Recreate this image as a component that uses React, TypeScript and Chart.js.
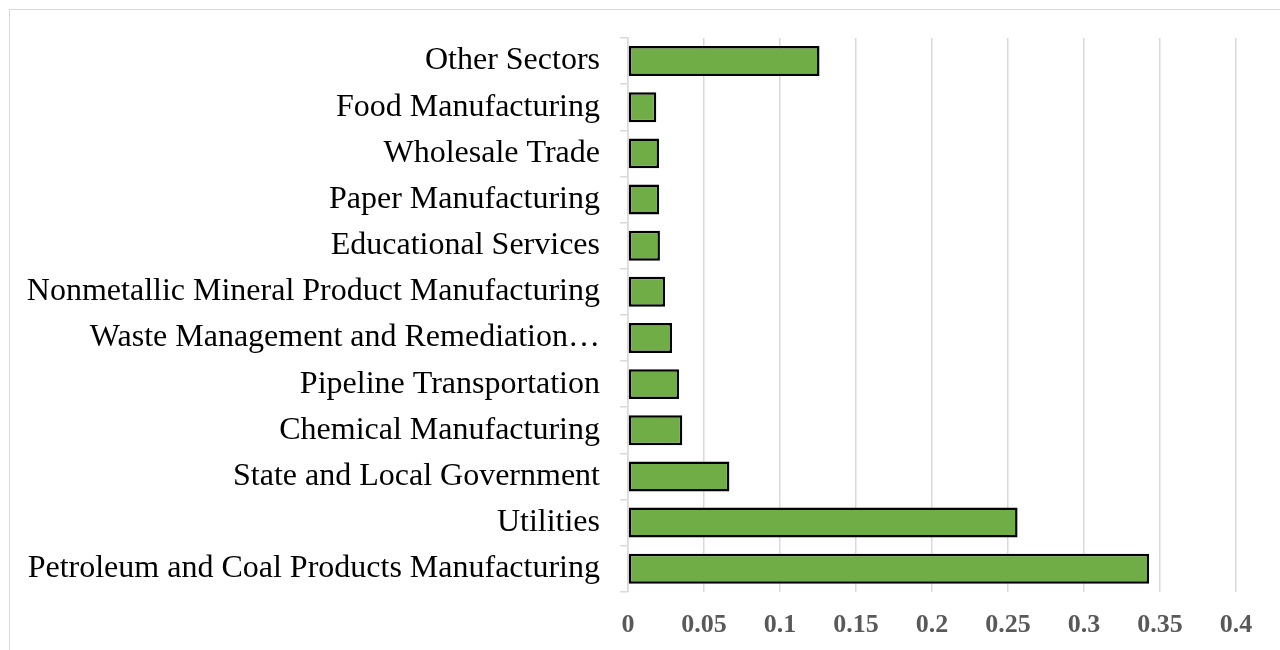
import React, { useEffect, useRef } from "react";
import { Chart, registerables } from "chart.js";
Chart.register(...registerables);

const categories = [
  "Other Sectors",
  "Food Manufacturing",
  "Wholesale Trade",
  "Paper Manufacturing",
  "Educational Services",
  "Nonmetallic Mineral Product Manufacturing",
  "Waste Management and Remediation…",
  "Pipeline Transportation",
  "Chemical Manufacturing",
  "State and Local Government",
  "Utilities",
  "Petroleum and Coal Products Manufacturing",
];
const values = [0.126, 0.0186, 0.0204, 0.0205, 0.021, 0.0244, 0.029, 0.0336, 0.0357, 0.0667, 0.2563, 0.3428];
const xTicks = [0, 0.05, 0.1, 0.15, 0.2, 0.25, 0.3, 0.35, 0.4];

const serif = "'Liberation Serif', 'Times New Roman', serif";

export default function App() {
  const ref = useRef<HTMLCanvasElement>(null);
  useEffect(() => {
    document.documentElement.style.overflow = "hidden";
    document.body.style.overflow = "hidden";
    const chart = new Chart(ref.current!, {
      type: "bar",
      data: {
        labels: categories,
        datasets: [
          {
            data: values,
            backgroundColor: "#70AD47",
            borderColor: "#000000",
            borderWidth: 2.5,
            borderSkipped: false,
            barPercentage: 0.65,
            categoryPercentage: 1,
          },
        ],
      },
      options: {
        indexAxis: "y",
        responsive: false,
        animation: false,
        layout: { padding: { left: 10, top: 27, right: 64, bottom: 10 } },
        plugins: { legend: { display: false }, tooltip: { enabled: false } },
        scales: {
          x: {
            min: 0,
            max: 0.4,
            afterBuildTicks: (s: any) => {
              s.ticks = xTicks.map((v) => ({ value: v }));
            },
            grid: { color: "#d9d9d9", lineWidth: 1.5, drawTicks: false },
            border: { display: false },
            ticks: {
              padding: 18,
              color: "#595959",
              font: { family: serif, size: 26, weight: "bold" },
              callback: (v: any) => String(v),
            },
          },
          y: {
            grid: { color: "#d9d9d9", lineWidth: 1.5, drawOnChartArea: false, tickLength: 8 },
            border: { color: "#d9d9d9", width: 1.5 },
            ticks: {
              padding: 20,
              color: "#000000",
              font: { family: serif, size: 32, lineHeight: 0.5 },
            },
          },
        },
      },
    } as any);
    return () => chart.destroy();
  }, []);
  return (
    <div
      style={{
        position: "absolute",
        left: 9,
        top: 9,
        border: "1px solid #d9d9d9",
        width: 1290,
        height: 659,
      }}
    >
      <canvas ref={ref} width={1290} height={659} style={{ display: "block" }} />
    </div>
  );
}
